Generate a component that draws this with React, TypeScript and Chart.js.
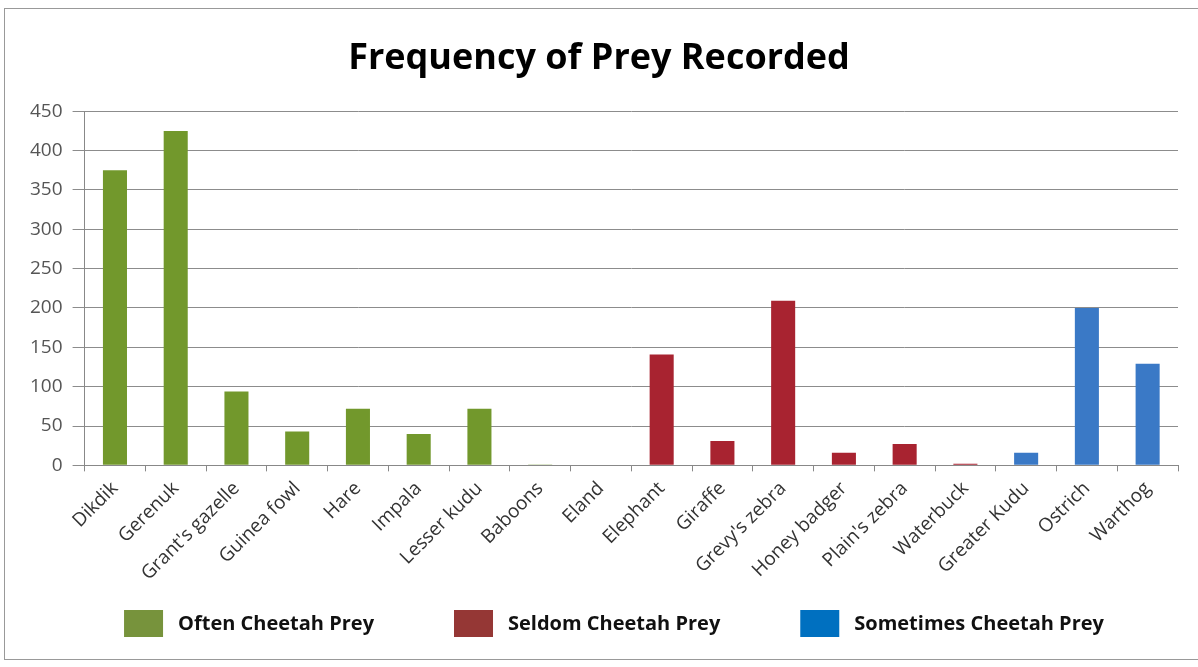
import React, { useEffect, useRef } from "react";
import { Chart, registerables } from "chart.js";

Chart.register(...registerables);

const categories = [
  "Dikdik", "Gerenuk", "Grant's gazelle", "Guinea fowl", "Hare", "Impala", "Lesser kudu",
  "Baboons", "Eland", "Elephant", "Giraffe", "Grevy's zebra", "Honey badger", "Plain's zebra",
  "Waterbuck", "Greater Kudu", "Ostrich", "Warthog",
];
const oftenValues = [375, 425, 94, 43, 72, 40, 72, 1, 0, null, null, null, null, null, null, null, null, null];
const seldomValues = [null, null, null, null, null, null, null, null, null, 141, 31, 209, 16, 27, 2, null, null, null];
const sometimesValues = [null, null, null, null, null, null, null, null, null, null, null, null, null, null, null, 16, 200, 129];
const seriesNames = ["Often Cheetah Prey", "Seldom Cheetah Prey", "Sometimes Cheetah Prey"];
const yTicks = [0, 50, 100, 150, 200, 250, 300, 350, 400, 450];

const barColors = ["#72982C", "#A82330", "#3A79C6"];
const legendColors = ["#77933C", "#953735", "#0070C0"];

const legendFont = "bold 20px 'Open Sans'";
const legendBoxW = 39;
const legendBoxH = 27;
const legendTextGap = 15;
const legendItemGap = 80;
const legendCenterShift = 15;
const legendBottom = 30;

const spacedLegend = {
  id: "spacedLegend",
  afterDraw(chart: any) {
    const ctx = chart.ctx;
    ctx.save();
    ctx.font = legendFont;
    const widths = seriesNames.map((t) => legendBoxW + legendTextGap + ctx.measureText(t).width);
    const total = widths.reduce((a, b) => a + b, 0) + legendItemGap * (widths.length - 1);
    let x = chart.width / 2 + legendCenterShift - total / 2;
    const cy = chart.height - legendBottom - legendBoxH / 2;
    seriesNames.forEach((t, i) => {
      ctx.fillStyle = legendColors[i];
      ctx.fillRect(x, cy - legendBoxH / 2, legendBoxW, legendBoxH);
      ctx.fillStyle = "#111";
      ctx.textAlign = "left";
      ctx.textBaseline = "middle";
      ctx.fillText(t, x + legendBoxW + legendTextGap, cy + 1);
      x += widths[i] + legendItemGap;
    });
    ctx.restore();
  },
};

export default function App() {
  const ref = useRef<HTMLCanvasElement | null>(null);
  useEffect(() => {
    document.body.style.margin = "0";
    const ctx = ref.current!;
    const chart = new Chart(ctx, {
      type: "bar",
      data: {
        labels: categories,
        datasets: [oftenValues, seldomValues, sometimesValues].map((d, i) => ({
          label: seriesNames[i],
          data: d as any,
          backgroundColor: barColors[i],
          borderWidth: 0,
          grouped: false,
          barPercentage: 0.44,
          categoryPercentage: 0.9,
        })),
      },
      plugins: [spacedLegend],
      options: {
        animation: false,
        responsive: false,
        maintainAspectRatio: false,
        layout: { padding: { left: 20, right: 20, top: 22, bottom: 76 } },
        plugins: {
          title: {
            display: true,
            text: "Frequency of Prey Recorded",
            color: "#000",
            font: { family: "Open Sans", size: 36, weight: "bold" },
            padding: { top: 15, bottom: 31 },
          },
          legend: { display: false },
          tooltip: { enabled: false },
        },
        scales: {
          x: {
            offset: true,
            grid: {
              display: true,
              offset: true,
              drawOnChartArea: false,
              drawTicks: true,
              tickLength: 6,
              color: "#888",
            },
            border: { display: true, color: "#888" },
            ticks: {
              autoSkip: false,
              maxRotation: 45,
              minRotation: 45,
              color: "#333",
              font: { family: "Open Sans", size: 19 },
              padding: 6,
            },
          },
          y: {
            min: 0,
            max: 450,
            afterBuildTicks: (axis: any) => {
              axis.ticks = yTicks.map((v) => ({ value: v }));
            },
            grid: { color: "#8c8c8c", tickLength: 12, lineWidth: 1 },
            border: { display: true, color: "#888" },
            ticks: {
              color: "#555",
              font: { family: "Open Sans", size: 19 },
              padding: 10,
            },
          },
        },
      },
    });
    return () => chart.destroy();
  }, []);
  return (
    <div
      style={{
        position: "absolute",
        left: 0,
        top: 0,
        width: 1198,
        height: 667,
        background: "#fff",
      }}
    >
      <div
        style={{
          position: "absolute",
          left: 4,
          top: 8,
          width: 1194,
          height: 652,
          border: "1px solid #999",
          borderRight: "none",
          boxSizing: "border-box",
        }}
      />
      <canvas ref={ref} width={1198} height={667} style={{ position: "absolute", left: 0, top: 0 }} />
    </div>
  );
}
